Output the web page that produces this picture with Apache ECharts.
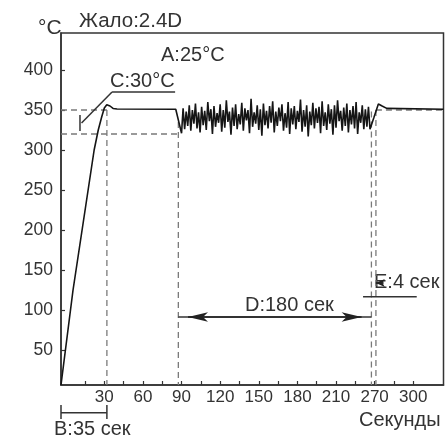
<!DOCTYPE html>
<html><head><meta charset="utf-8">
<script src="https://cdn.jsdelivr.net/npm/echarts@6/dist/echarts.min.js"></script>
<style>html,body{margin:0;padding:0;background:#fff}#c{width:445px;height:438px}</style>
</head><body><div id="c"></div>
<script>
// ---- data (axis units; x axis labels follow the original picture) ----
const xTickLabels = ['30','60','90','120','150','180','210','270','300'];
const xLabelPositions = [30,60,90,120,150,180,210,240,270];
const xTickPositions = [15,30,45,60,75,90,105,120,135,150,165,180,195,210,225,240,255,270];
const yTickValues = [50,100,150,200,250,300,350,400];

const riseTime = [-3.65, 5.7, 22.1, 25.3, 28.0, 30.0, 31.9, 34.4, 36.8, 39.9, 85.5];
const riseTemp = [6.25, 125, 300, 325, 341.6, 352.5, 356.6, 355, 351.9, 351.3, 351];

const noiseStart = 90, noiseStep = 1.2;
const noiseTemp = [
 321,352, 326,348, 330,356, 324,350, 333,358, 327,347, 322,354, 331,349, 325,360, 336,351,
 320,355, 329,346, 334,357, 323,350, 328,362, 335,348, 319,353, 330,357, 326,345, 332,359,
 324,352, 337,350, 321,364, 329,347, 333,356, 325,351, 318,358, 331,349, 327,355, 334,361,
 322,348, 330,353, 336,357, 324,346, 328,360, 320,352, 332,355, 326,349, 335,363, 323,350,
 329,356, 317,348, 331,359, 327,352, 334,354, 321,361, 330,347, 325,357, 333,351, 319,356,
 328,362, 336,349, 324,353, 330,358, 322,350, 332,355, 327,360, 320,347, 334,356, 326,351,
 329,354, 326
];

const tailTime = [239.5, 242.9, 245.8, 249.4, 293.5];
const tailTemp = [341, 357.5, 355, 352, 351];

// reference levels / times
const setTemp = 350, lowTemp = 320;
const tReach = 32, tStart = 87.5, tEnd1 = 237.5, tEnd2 = 241;

// ---- build ----
const xMin = -3.65, xMax = 293.5, yMin = 6.25, yMax = 446.25;
const curve = [];
riseTime.forEach((t,i)=>curve.push([t, riseTemp[i]]));
noiseTemp.forEach((v,i)=>curve.push([+(noiseStart + i*noiseStep).toFixed(2), v]));
tailTime.forEach((t,i)=>curve.push([t, tailTemp[i]]));

const FONT = "'Liberation Sans', Arial, sans-serif";
const TXT = '#333';
const dashStyle = {color:'#7a7a7a', width:1.3, type:[6,4]};
const solidStyle = {color:'#333', width:1.5};

function seg(pts, style, clip){
  return {type:'line', data:pts, symbol:'none', silent:true, animation:false,
    clip: clip !== false, lineStyle:style, z:1};
}

const series = [
  seg([[xMin,setTemp],[tReach,setTemp]], dashStyle),
  seg([[tEnd2,setTemp],[xMax,setTemp]], dashStyle),
  seg([[xMin,lowTemp],[tStart,lowTemp]], dashStyle),
  seg([[tReach,setTemp],[tReach,yMin]], dashStyle),
  seg([[tStart,335],[tStart,yMin]], dashStyle),
  seg([[tEnd1,348],[tEnd1,yMin]], dashStyle),
  seg([[tEnd2,350],[tEnd2,yMin]], dashStyle),
  // C annotation leader
  seg([[36,372.5],[85,372.5]], solidStyle),
  seg([[12.3,333.75],[36,372.5]], solidStyle),
  seg([[11.1,343.75],[11.1,323.75]], solidStyle),
  // E underline
  seg([[231,116.6],[272.7,116.6]], solidStyle),
  // D line
  seg([[tStart,91.25],[tEnd1,91.25]], solidStyle),
  // B bracket below axis
  seg([[xMin,-28.4],[tReach,-28.4]], solidStyle, false),
  seg([[xMin,-18.75],[xMin,-36.25]], solidStyle, false),
  seg([[tReach,-18.75],[tReach,-36.25]], solidStyle, false),
  {type:'line', data:curve, symbol:'none', silent:true, animation:false, z:3,
   lineStyle:{color:'#151515', width:1.6},
   markLine:{silent:true, animation:false, label:{show:false}, symbol:['arrow','arrow'], symbolSize:[7,20],
     lineStyle:{color:'#222', width:1.5, type:'solid'},
     data:[
       [{coord:[95.0,91.25]},{coord:[229.9,91.25]}],
       [{coord:[247,133.75], symbol:'none'},{coord:[240.9,133.75], symbol:'arrow', symbolSize:[6,9]}]
     ]}
  }
];

function txt(text, x, y, size){
  return {type:'text', x:x, y:y, silent:true,
    style:{text:text, fontSize:size, fontFamily:FONT, fill:TXT, align:'left', verticalAlign:'middle'}};
}

const option = {
  animation:false,
  grid:{left:61, right:1.5, top:33, bottom:53, containLabel:false, outerBoundsMode:'none',
        show:true, borderColor:'#333', borderWidth:1.5, backgroundColor:'transparent'},
  xAxis:{type:'value', min:xMin, max:xMax,
    axisLine:{show:true, onZero:false, lineStyle:{color:'#333', width:1.5}},
    axisTick:{show:true, inside:true, length:4, customValues:xTickPositions, lineStyle:{color:'#333', width:1.2}},
    axisLabel:{show:true, customValues:xLabelPositions, margin:4, fontSize:17, fontFamily:FONT, color:TXT,
      formatter:v=>{const i=xLabelPositions.indexOf(Math.round(v)); return i>=0?xTickLabels[i]:'';}},
    splitLine:{show:false}},
  yAxis:{type:'value', min:yMin, max:yMax,
    axisLine:{show:true, onZero:false, lineStyle:{color:'#333', width:1.5}},
    axisTick:{show:true, inside:true, length:4, customValues:yTickValues, lineStyle:{color:'#333', width:1.2}},
    axisLabel:{show:true, customValues:yTickValues, margin:8, fontSize:17.5, fontFamily:FONT, color:TXT},
    splitLine:{show:false}},
  series:series,
  graphic:[
    txt('°C', 38, 28, 21),
    txt('Жало:2.4D', 79, 21, 20.5),
    txt('A:25°C', 161, 55, 20),
    txt('C:30°C', 110, 81, 20),
    txt('D:180 сек', 245, 305, 20),
    txt('E:4 сек', 374, 282, 20),
    txt('B:35 сек', 54, 429, 20),
    txt('Секунды', 359, 420, 20)
  ]
};
const chart = echarts.init(document.getElementById('c'), null, {renderer:'canvas'});
chart.setOption(option);
</script></body></html>
